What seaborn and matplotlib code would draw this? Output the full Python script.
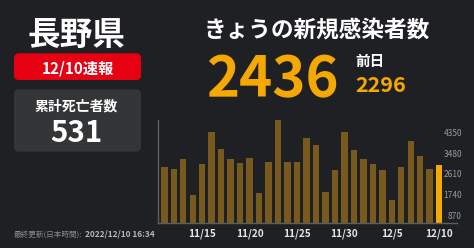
import matplotlib
matplotlib.use('Agg')
import matplotlib.pyplot as plt
import matplotlib.transforms as mtransforms
from matplotlib.patches import FancyBboxPatch
import seaborn as sns
import pandas as pd

# ---- data ----
dates = ['11/11', '11/12', '11/13', '11/14', '11/15', '11/16', '11/17', '11/18', '11/19', '11/20',
         '11/21', '11/22', '11/23', '11/24', '11/25', '11/26', '11/27', '11/28', '11/29', '11/30',
         '12/1', '12/2', '12/3', '12/4', '12/5', '12/6', '12/7', '12/8', '12/9', '12/10']
cases = [2350, 2290, 2720, 1200, 2510, 3860, 3140, 2690, 2520, 2770,
         1290, 2580, 4350, 2580, 2570, 3610, 3310, 1310, 2250, 3860,
         3070, 2710, 2500, 2250, 970, 2350, 3450, 2820, 2296, 2436]
tick_dates = ['11/15', '11/20', '11/25', '11/30', '12/5', '12/10']
ytick_values = [870, 1740, 2610, 3480, 4350]

prefecture = '長野県'
report_label = '12/10速報'
deaths_label = '累計死亡者数'
deaths_total = '531'
today_label = 'きょうの新規感染者数'
today_cases = '2436'
prev_label = '前日'
prev_cases = '2296'
updated_label = '最終更新(日本時間):'
updated_time = '2022/12/10 16:34'

# ---- style ----
W, H = 474, 248
BG = '#1e2023'
ORANGE = '#f5a800'
DARK_BAR = '#785a1e'
sns.set_theme(style='dark')
plt.rcParams['font.family'] = ['Noto Sans CJK JP', 'DejaVu Sans']

fig = plt.figure(figsize=(W / 100, H / 100), dpi=100, facecolor=BG)
px = mtransforms.Affine2D().scale(1 / 100, -1 / 100).translate(0, H / 100) + fig.dpi_scale_trans

# ---- left panel ----
fig.text(76, 44.5, prefecture, transform=px, ha='center', va='baseline',
         fontsize=23.5, fontweight='bold', color='white')

fig.patches.append(FancyBboxPatch((14, 53.3), 127, 26.7, boxstyle='round,pad=0,rounding_size=5',
                                  transform=px, facecolor='#e60012', edgecolor='none'))
fig.text(78, 73.3, report_label, transform=px, ha='center', va='baseline',
         fontsize=11, fontweight='bold', color='white')

fig.patches.append(FancyBboxPatch((14, 89.3), 127, 62.4, boxstyle='round,pad=0,rounding_size=5',
                                  transform=px, facecolor='#333537', edgecolor='none'))
fig.text(76, 110, deaths_label, transform=px, ha='center', va='baseline',
         fontsize=10, fontweight='bold', color='white')
fig.text(76, 141.7, deaths_total, transform=px, ha='center', va='baseline',
         fontsize=21.3, fontweight='bold', color='white')

fig.text(14, 236.5, updated_label, transform=px, ha='left', va='baseline',
         fontsize=5.5, color='#8a8a8a')
fig.text(85, 236.5, updated_time, transform=px, ha='left', va='baseline',
         fontsize=6, fontweight='bold', color='#b5b5b5')

# ---- right header ----
fig.text(316.5, 37, today_label, transform=px, ha='center', va='baseline',
         fontsize=16.3, fontweight='bold', color='white')
fig.text(206, 96, today_cases, transform=px, ha='left', va='baseline',
         fontsize=40.5, fontweight='bold', color=ORANGE)
fig.text(355, 66, prev_label, transform=px, ha='left', va='baseline',
         fontsize=10.5, fontweight='bold', color='white')
fig.text(355, 91.5, prev_cases, transform=px, ha='left', va='baseline',
         fontsize=15.5, fontweight='bold', color=ORANGE)

# ---- bar chart ----
ax = fig.add_axes([158.3 / W, 1 - 223.3 / H, (456.7 - 158.3) / W, (223.3 - 120) / H])
ax.set_facecolor(BG)
df = pd.DataFrame({'date': dates, 'cases': cases})
colors = [DARK_BAR] * (len(dates) - 1) + [ORANGE]
sns.barplot(data=df, x='date', y='cases', hue='date', palette=colors, legend=False,
            width=0.68, saturation=1, edgecolor='none', linewidth=0, ax=ax)
ax.set_xlim(-0.633, 30.85)
ax.set_ylim(0, 4350)
ax.grid(False)
ax.set_xlabel('')
ax.set_ylabel('')
for s in ['top', 'right']:
    ax.spines[s].set_visible(False)
for s in ['left', 'bottom']:
    ax.spines[s].set_visible(True)
    ax.spines[s].set_color('#5c5e60')
    ax.spines[s].set_linewidth(1)

ax.set_xticks([dates.index(d) for d in tick_dates], tick_dates)
ax.tick_params(axis='x', length=0, pad=4, labelsize=7.2, labelcolor='#e6e6e6')
for lbl in ax.get_xticklabels():
    lbl.set_fontweight('bold')
ax.set_yticks([])

ytrans = ax.get_yaxis_transform() + mtransforms.ScaledTranslation(5.3 / 100, -16 / 100, fig.dpi_scale_trans)
for v in ytick_values:
    ax.text(1, v, str(v), transform=ytrans, ha='right', va='baseline',
            fontsize=6, color='#9a9a9a')

fig.savefig('out.png', dpi=100, facecolor=BG)
